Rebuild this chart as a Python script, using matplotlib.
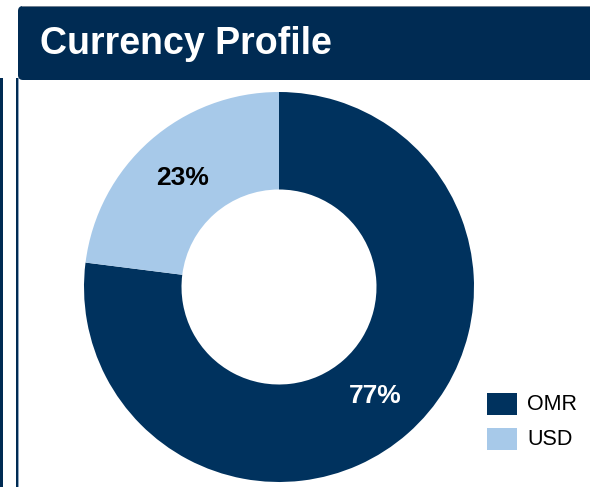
import matplotlib
matplotlib.use("Agg")
import matplotlib.pyplot as plt
from matplotlib.patches import Rectangle, FancyBboxPatch

title = "Currency Profile"
categories = ["OMR", "USD"]
values = [77, 23]
colors = ["#00325E", "#A7C9E9"]
navy = "#002B53"

W, H = 590, 487
fig = plt.figure(figsize=(W / 100, H / 100), dpi=100)
plt.rcParams['font.family'] = ['Liberation Sans', 'DejaVu Sans']

# background axes in pixel coordinates (y downward)
bg = fig.add_axes([0, 0, 1, 1])
bg.set_xlim(0, W)
bg.set_ylim(H, 0)
bg.axis("off")

# left edge lines
bg.add_patch(Rectangle((0, 78), 2.5, H - 78, color=navy, lw=0))
bg.add_patch(Rectangle((15.5, 78), 2, H - 78, color=navy, lw=0))
bg.add_patch(Rectangle((17.5, 78), 1.2, H - 78, color="#8FA7C0", lw=0))

# header bar
bg.add_patch(FancyBboxPatch((18, 6), W + 20, 74, boxstyle="round,pad=0,rounding_size=5",
                            color=navy, lw=0))
bg.add_patch(Rectangle((22, 6), W, 1.2, color="#6F7F90", lw=0))
bg.text(40, 44, title, color="white", fontsize=27, fontweight="bold",
        va="center", ha="left")

# legend (manual, pixel coordinates)
for i, (lab, col) in enumerate(zip(categories, colors)):
    y0 = 393 + i * 35
    bg.add_patch(Rectangle((487, y0), 30, 22, color=col, lw=0))
    bg.text(527, y0 + 11.5, lab, fontsize=15.5, color="black", va="center", ha="left")

# donut
ax = fig.add_axes([0, 0, 1, 1])
ax.axis("off")
cx, cy, R = 279, H - 287, 195
wedges, texts, autotexts = ax.pie(
    values, colors=colors, startangle=90, counterclock=False,
    center=(cx, cy), radius=R, autopct="%d%%", pctdistance=0.745,
    wedgeprops=dict(width=R * 0.5, linewidth=0),
    textprops=dict(fontsize=19, fontweight="bold"))
autotexts[0].set_color("white")
autotexts[1].set_color("black")
ax.set_xlim(0, W)
ax.set_ylim(0, H)
ax.set_aspect("auto")

fig.savefig("out.png", dpi=100)
